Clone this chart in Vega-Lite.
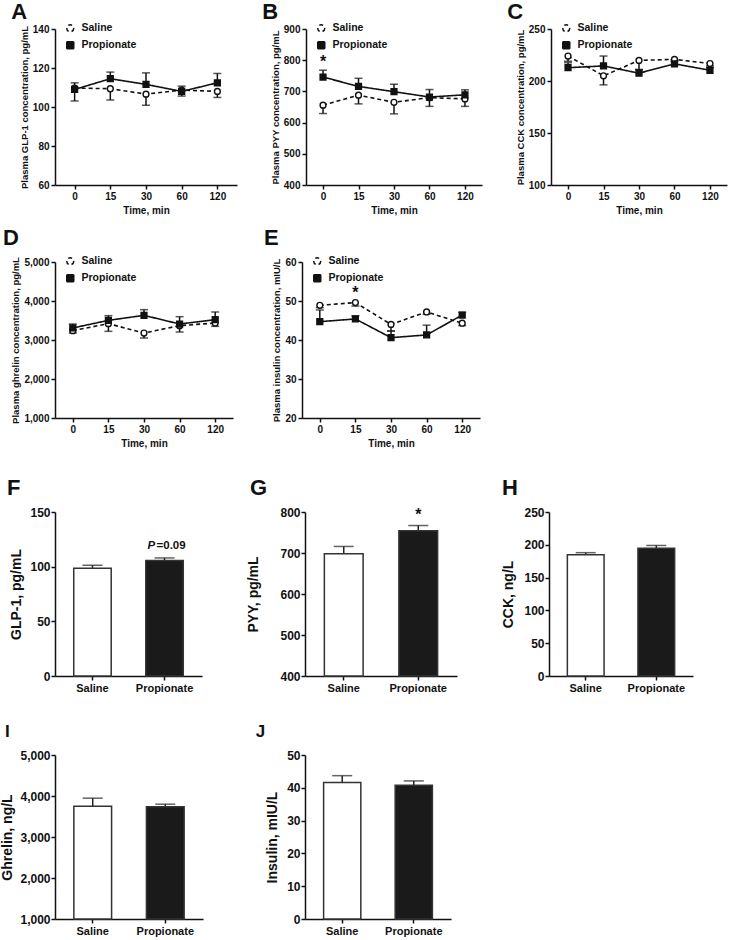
{
  "$schema": "https://vega.github.io/schema/vega-lite/v6.json",
  "background": "white",
  "padding": {"left": 0, "top": 1, "right": 2, "bottom": 2},
  "config": {
    "font": "Liberation Sans",
    "view": {"stroke": null},
    "axis": {"grid": false, "domainColor": "#111", "domainWidth": 1.5, "tickColor": "#111", "tickWidth": 1.5, "tickSize": 4, "labelFont": "Liberation Sans", "labelFontWeight": "bold", "labelColor": "#111", "titleFont": "Liberation Sans", "titleFontWeight": "bold", "titleColor": "#111", "labelPadding": 2},
    "title": {"font": "Liberation Sans", "fontWeight": "bold", "color": "#111", "anchor": "start", "frame": "bounds"},
    "legend": {"labelFont": "Liberation Sans"}
  },
  "datasets": {
    "lines": [
      {"panel": "A", "time": 0, "group": "Saline", "value": 109.7, "err": 103.1},
      {"panel": "A", "time": 15, "group": "Saline", "value": 109.4, "err": 103.6},
      {"panel": "A", "time": 30, "group": "Saline", "value": 106.6, "err": 100.9},
      {"panel": "A", "time": 60, "group": "Saline", "value": 108.7, "err": 105.6},
      {"panel": "A", "time": 120, "group": "Saline", "value": 108.0, "err": 104.9},
      {"panel": "A", "time": 0, "group": "Propionate", "value": 109.0, "err": 112.4},
      {"panel": "A", "time": 15, "group": "Propionate", "value": 114.5, "err": 117.9},
      {"panel": "A", "time": 30, "group": "Propionate", "value": 111.6, "err": 117.5},
      {"panel": "A", "time": 60, "group": "Propionate", "value": 108.0, "err": 110.7},
      {"panel": "A", "time": 120, "group": "Propionate", "value": 112.4, "err": 117.2},
      {"panel": "B", "time": 0, "group": "Saline", "value": 656, "err": 629},
      {"panel": "B", "time": 15, "group": "Saline", "value": 688, "err": 660},
      {"panel": "B", "time": 30, "group": "Saline", "value": 665, "err": 628},
      {"panel": "B", "time": 60, "group": "Saline", "value": 680, "err": 652},
      {"panel": "B", "time": 120, "group": "Saline", "value": 676, "err": 652},
      {"panel": "B", "time": 0, "group": "Propionate", "value": 746, "err": 768},
      {"panel": "B", "time": 15, "group": "Propionate", "value": 716, "err": 742},
      {"panel": "B", "time": 30, "group": "Propionate", "value": 699, "err": 723},
      {"panel": "B", "time": 60, "group": "Propionate", "value": 682, "err": 706},
      {"panel": "B", "time": 120, "group": "Propionate", "value": 689, "err": 705},
      {"panel": "C", "time": 0, "group": "Saline", "value": 224, "err": 219},
      {"panel": "C", "time": 15, "group": "Saline", "value": 205, "err": 196.3},
      {"panel": "C", "time": 30, "group": "Saline", "value": 219.8, "err": 211},
      {"panel": "C", "time": 60, "group": "Saline", "value": 220.8, "err": 219},
      {"panel": "C", "time": 120, "group": "Saline", "value": 216.8, "err": 214.5},
      {"panel": "C", "time": 0, "group": "Propionate", "value": 212.8, "err": 217.6},
      {"panel": "C", "time": 15, "group": "Propionate", "value": 214.5, "err": 224},
      {"panel": "C", "time": 30, "group": "Propionate", "value": 207.5, "err": 211},
      {"panel": "C", "time": 60, "group": "Propionate", "value": 216.5, "err": 220.5},
      {"panel": "C", "time": 120, "group": "Propionate", "value": 210.3, "err": 212.8},
      {"panel": "D", "time": 0, "group": "Saline", "value": 3240, "err": 3180},
      {"panel": "D", "time": 15, "group": "Saline", "value": 3419, "err": 3222},
      {"panel": "D", "time": 30, "group": "Saline", "value": 3179, "err": 3051},
      {"panel": "D", "time": 60, "group": "Saline", "value": 3368, "err": 3205},
      {"panel": "D", "time": 120, "group": "Saline", "value": 3436, "err": 3350},
      {"panel": "D", "time": 0, "group": "Propionate", "value": 3308, "err": 3410},
      {"panel": "D", "time": 15, "group": "Propionate", "value": 3504, "err": 3624},
      {"panel": "D", "time": 30, "group": "Propionate", "value": 3632, "err": 3778},
      {"panel": "D", "time": 60, "group": "Propionate", "value": 3410, "err": 3598},
      {"panel": "D", "time": 120, "group": "Propionate", "value": 3521, "err": 3718},
      {"panel": "E", "time": 0, "group": "Saline", "value": 48.9, "err": 48.3},
      {"panel": "E", "time": 15, "group": "Saline", "value": 49.6, "err": 48.7},
      {"panel": "E", "time": 30, "group": "Saline", "value": 44.0, "err": 42.3},
      {"panel": "E", "time": 60, "group": "Saline", "value": 47.2, "err": 46.6},
      {"panel": "E", "time": 120, "group": "Saline", "value": 44.3, "err": 43.7},
      {"panel": "E", "time": 0, "group": "Propionate", "value": 44.7, "err": 47.7},
      {"panel": "E", "time": 15, "group": "Propionate", "value": 45.4, "err": 46.2},
      {"panel": "E", "time": 30, "group": "Propionate", "value": 40.6, "err": 42.3},
      {"panel": "E", "time": 60, "group": "Propionate", "value": 41.3, "err": 43.8},
      {"panel": "E", "time": 120, "group": "Propionate", "value": 46.4, "err": 47.1}
    ],
    "bars": [
      {"panel": "F", "group": "Saline", "value": 98.5, "err": 101.3},
      {"panel": "F", "group": "Propionate", "value": 105.6, "err": 108},
      {"panel": "G", "group": "Saline", "value": 698, "err": 716},
      {"panel": "G", "group": "Propionate", "value": 754, "err": 767},
      {"panel": "H", "group": "Saline", "value": 185, "err": 188},
      {"panel": "H", "group": "Propionate", "value": 194.7, "err": 199},
      {"panel": "I", "group": "Saline", "value": 3751, "err": 3947},
      {"panel": "I", "group": "Propionate", "value": 3735, "err": 3800},
      {"panel": "J", "group": "Saline", "value": 41.6, "err": 43.7},
      {"panel": "J", "group": "Propionate", "value": 40.8, "err": 42.1}
    ],
    "notes": [
      {"panel": "B", "time": 0, "value": 793, "label": "*"},
      {"panel": "E", "time": 15, "value": 52.0, "label": "*"},
      {"panel": "G", "group": "Propionate", "value": 792, "label": "*"},
      {"panel": "F", "group": "Propionate", "value": 118.7, "label": "P"},
      {"panel": "F", "group": "Propionate", "value": 118.7, "label": "=0.09"}
    ]
  },
  "resolve": {"scale": {"shape": "independent", "fill": "independent", "strokeDash": "independent"}, "legend": {"shape": "independent", "fill": "independent", "strokeDash": "independent"}},
  "spacing": 29,
  "vconcat": [
    {
      "resolve": {"scale": {"shape": "independent", "fill": "independent", "strokeDash": "independent"}, "legend": {"shape": "independent", "fill": "independent", "strokeDash": "independent"}},
      "spacing": 12,
      "vconcat": [
        {
          "resolve": {"scale": {"shape": "independent", "fill": "independent", "strokeDash": "independent"}, "legend": {"shape": "independent", "fill": "independent", "strokeDash": "independent"}},
          "spacing": 25,
          "hconcat": [
            {
              "title": {"text": "A", "fontSize": 22, "dx": -8, "offset": -1},
              "width": 182, "height": 156,
              "data": {"name": "lines"},
              "transform": [{"filter": "datum.panel === 'A'"}],
              "encoding": {
                "x": {"field": "time", "type": "ordinal", "scale": {"type": "point", "padding": 0.55}, "axis": {"title": "Time, min", "labelAngle": 0, "labelFontSize": 10, "titleFontSize": 10, "titlePadding": 4}},
                "y": {"field": "value", "type": "quantitative", "scale": {"domain": [60, 140], "nice": false, "zero": false}, "axis": {"values": [60, 80, 100, 120, 140], "title": "Plasma GLP-1 concentration, pg/mL", "labelFontSize": 10, "titleFontSize": 9.5, "titlePadding": 3}}
              },
              "layer": [
                {"mark": {"type": "line", "color": "#111", "strokeWidth": 1.6}, "encoding": {"strokeDash": {"field": "group", "type": "nominal", "scale": {"domain": ["Saline", "Propionate"], "range": [[4, 3], [1, 0]]},
                  "legend": {"orient": "none", "legendX": 10, "legendY": -6, "title": null, "padding": 0, "rowPadding": 3, "symbolSize": 49, "symbolStrokeWidth": 1.5, "labelOffset": 6, "labelFontSize": 10.5, "labelFontWeight": "bold", "labelColor": "#111"}}}},
                {"mark": {"type": "rule", "color": "#111", "strokeWidth": 1.5}, "encoding": {"y2": {"field": "err"}}},
                {"mark": {"type": "tick", "color": "#111", "orient": "horizontal", "size": 8, "thickness": 1.5}, "encoding": {"y": {"field": "err", "type": "quantitative"}}},
                {"mark": {"type": "point", "filled": true, "stroke": "#111", "strokeWidth": 1.4, "opacity": 1, "size": 34},
                 "encoding": {
                   "fill": {"field": "group", "type": "nominal", "scale": {"domain": ["Saline", "Propionate"], "range": ["white", "#111"]},
                     "legend": {"orient": "none", "legendX": 10, "legendY": -6, "title": null, "padding": 0, "rowPadding": 3, "symbolSize": 49, "symbolStrokeWidth": 1.5, "labelOffset": 6, "labelFontSize": 10.5, "labelFontWeight": "bold", "labelColor": "#111"}},
                   "shape": {"field": "group", "type": "nominal", "scale": {"domain": ["Saline", "Propionate"], "range": ["circle", "square"]},
                     "legend": {"orient": "none", "legendX": 10, "legendY": -6, "title": null, "padding": 0, "rowPadding": 3, "symbolSize": 49, "symbolStrokeWidth": 1.5, "labelOffset": 6, "labelFontSize": 10.5, "labelFontWeight": "bold", "labelColor": "#111"}}
                 }}
              ]
            },
            {
              "title": {"text": "B", "fontSize": 22, "dx": -8, "offset": -1},
              "width": 176, "height": 156,
              "encoding": {
                "x": {"field": "time", "type": "ordinal", "scale": {"type": "point", "padding": 0.48}, "axis": {"title": "Time, min", "labelAngle": 0, "labelFontSize": 10, "titleFontSize": 10, "titlePadding": 4}},
                "y": {"field": "value", "type": "quantitative", "scale": {"domain": [400, 900], "nice": false, "zero": false}, "axis": {"values": [400, 500, 600, 700, 800, 900], "title": "Plasma PYY concentration, pg/mL", "labelFontSize": 10, "titleFontSize": 9.5, "titlePadding": 3}}
              },
              "layer": [
                {
                  "data": {"name": "lines"},
                  "transform": [{"filter": "datum.panel === 'B'"}],
                  "layer": [
                    {"mark": {"type": "line", "color": "#111", "strokeWidth": 1.6}, "encoding": {"strokeDash": {"field": "group", "type": "nominal", "scale": {"domain": ["Saline", "Propionate"], "range": [[4, 3], [1, 0]]},
                      "legend": {"orient": "none", "legendX": 10, "legendY": -6, "title": null, "padding": 0, "rowPadding": 3, "symbolSize": 49, "symbolStrokeWidth": 1.5, "labelOffset": 6, "labelFontSize": 10.5, "labelFontWeight": "bold", "labelColor": "#111"}}}},
                    {"mark": {"type": "rule", "color": "#111", "strokeWidth": 1.5}, "encoding": {"y2": {"field": "err"}}},
                    {"mark": {"type": "tick", "color": "#111", "orient": "horizontal", "size": 8, "thickness": 1.5}, "encoding": {"y": {"field": "err", "type": "quantitative"}}},
                    {"mark": {"type": "point", "filled": true, "stroke": "#111", "strokeWidth": 1.4, "opacity": 1, "size": 34},
                     "encoding": {
                       "fill": {"field": "group", "type": "nominal", "scale": {"domain": ["Saline", "Propionate"], "range": ["white", "#111"]},
                         "legend": {"orient": "none", "legendX": 10, "legendY": -6, "title": null, "padding": 0, "rowPadding": 3, "symbolSize": 49, "symbolStrokeWidth": 1.5, "labelOffset": 6, "labelFontSize": 10.5, "labelFontWeight": "bold", "labelColor": "#111"}},
                       "shape": {"field": "group", "type": "nominal", "scale": {"domain": ["Saline", "Propionate"], "range": ["circle", "square"]},
                         "legend": {"orient": "none", "legendX": 10, "legendY": -6, "title": null, "padding": 0, "rowPadding": 3, "symbolSize": 49, "symbolStrokeWidth": 1.5, "labelOffset": 6, "labelFontSize": 10.5, "labelFontWeight": "bold", "labelColor": "#111"}}
                     }}
                  ]
                },
                {
                  "data": {"name": "notes"},
                  "transform": [{"filter": "datum.panel === 'B'"}],
                  "mark": {"type": "text", "fontSize": 16, "fontWeight": "bold", "color": "#111", "baseline": "middle"},
                  "encoding": {"text": {"field": "label"}}
                }
              ]
            },
            {
              "title": {"text": "C", "fontSize": 22, "dx": -8, "offset": -1},
              "width": 176, "height": 156,
              "data": {"name": "lines"},
              "transform": [{"filter": "datum.panel === 'C'"}],
              "encoding": {
                "x": {"field": "time", "type": "ordinal", "scale": {"type": "point", "padding": 0.48}, "axis": {"title": "Time, min", "labelAngle": 0, "labelFontSize": 10, "titleFontSize": 10, "titlePadding": 4}},
                "y": {"field": "value", "type": "quantitative", "scale": {"domain": [100, 250], "nice": false, "zero": false}, "axis": {"values": [100, 150, 200, 250], "title": "Plasma CCK concentration, pg/mL", "labelFontSize": 10, "titleFontSize": 9.5, "titlePadding": 3}}
              },
              "layer": [
                {"mark": {"type": "line", "color": "#111", "strokeWidth": 1.6}, "encoding": {"strokeDash": {"field": "group", "type": "nominal", "scale": {"domain": ["Saline", "Propionate"], "range": [[4, 3], [1, 0]]},
                  "legend": {"orient": "none", "legendX": 10, "legendY": -6, "title": null, "padding": 0, "rowPadding": 3, "symbolSize": 49, "symbolStrokeWidth": 1.5, "labelOffset": 6, "labelFontSize": 10.5, "labelFontWeight": "bold", "labelColor": "#111"}}}},
                {"mark": {"type": "rule", "color": "#111", "strokeWidth": 1.5}, "encoding": {"y2": {"field": "err"}}},
                {"mark": {"type": "tick", "color": "#111", "orient": "horizontal", "size": 8, "thickness": 1.5}, "encoding": {"y": {"field": "err", "type": "quantitative"}}},
                {"mark": {"type": "point", "filled": true, "stroke": "#111", "strokeWidth": 1.4, "opacity": 1, "size": 34},
                 "encoding": {
                   "fill": {"field": "group", "type": "nominal", "scale": {"domain": ["Saline", "Propionate"], "range": ["white", "#111"]},
                     "legend": {"orient": "none", "legendX": 10, "legendY": -6, "title": null, "padding": 0, "rowPadding": 3, "symbolSize": 49, "symbolStrokeWidth": 1.5, "labelOffset": 6, "labelFontSize": 10.5, "labelFontWeight": "bold", "labelColor": "#111"}},
                   "shape": {"field": "group", "type": "nominal", "scale": {"domain": ["Saline", "Propionate"], "range": ["circle", "square"]},
                     "legend": {"orient": "none", "legendX": 10, "legendY": -6, "title": null, "padding": 0, "rowPadding": 3, "symbolSize": 49, "symbolStrokeWidth": 1.5, "labelOffset": 6, "labelFontSize": 10.5, "labelFontWeight": "bold", "labelColor": "#111"}}
                 }}
              ]
            }
          ]
        },
        {
          "resolve": {"scale": {"shape": "independent", "fill": "independent", "strokeDash": "independent"}, "legend": {"shape": "independent", "fill": "independent", "strokeDash": "independent"}},
          "spacing": 30,
          "hconcat": [
            {
              "title": {"text": "D", "fontSize": 22, "dx": -8, "offset": 6},
              "width": 178, "height": 156,
              "data": {"name": "lines"},
              "transform": [{"filter": "datum.panel === 'D'"}],
              "encoding": {
                "x": {"field": "time", "type": "ordinal", "scale": {"type": "point", "padding": 0.5}, "axis": {"title": "Time, min", "labelAngle": 0, "labelFontSize": 10, "titleFontSize": 10, "titlePadding": 4}},
                "y": {"field": "value", "type": "quantitative", "scale": {"domain": [1000, 5000], "nice": false, "zero": false}, "axis": {"values": [1000, 2000, 3000, 4000, 5000], "format": ",d", "title": "Plasma ghrelin concentration, pg/mL", "labelFontSize": 10, "titleFontSize": 9.5, "titlePadding": 3}}
              },
              "layer": [
                {"mark": {"type": "line", "color": "#111", "strokeWidth": 1.6}, "encoding": {"strokeDash": {"field": "group", "type": "nominal", "scale": {"domain": ["Saline", "Propionate"], "range": [[4, 3], [1, 0]]},
                  "legend": {"orient": "none", "legendX": 10, "legendY": -6, "title": null, "padding": 0, "rowPadding": 3, "symbolSize": 49, "symbolStrokeWidth": 1.5, "labelOffset": 6, "labelFontSize": 10.5, "labelFontWeight": "bold", "labelColor": "#111"}}}},
                {"mark": {"type": "rule", "color": "#111", "strokeWidth": 1.5}, "encoding": {"y2": {"field": "err"}}},
                {"mark": {"type": "tick", "color": "#111", "orient": "horizontal", "size": 8, "thickness": 1.5}, "encoding": {"y": {"field": "err", "type": "quantitative"}}},
                {"mark": {"type": "point", "filled": true, "stroke": "#111", "strokeWidth": 1.4, "opacity": 1, "size": 34},
                 "encoding": {
                   "fill": {"field": "group", "type": "nominal", "scale": {"domain": ["Saline", "Propionate"], "range": ["white", "#111"]},
                     "legend": {"orient": "none", "legendX": 10, "legendY": -6, "title": null, "padding": 0, "rowPadding": 3, "symbolSize": 49, "symbolStrokeWidth": 1.5, "labelOffset": 6, "labelFontSize": 10.5, "labelFontWeight": "bold", "labelColor": "#111"}},
                   "shape": {"field": "group", "type": "nominal", "scale": {"domain": ["Saline", "Propionate"], "range": ["circle", "square"]},
                     "legend": {"orient": "none", "legendX": 10, "legendY": -6, "title": null, "padding": 0, "rowPadding": 3, "symbolSize": 49, "symbolStrokeWidth": 1.5, "labelOffset": 6, "labelFontSize": 10.5, "labelFontWeight": "bold", "labelColor": "#111"}}
                 }}
              ]
            },
            {
              "title": {"text": "E", "fontSize": 22, "dx": -8, "offset": 6},
              "width": 178, "height": 156,
              "encoding": {
                "x": {"field": "time", "type": "ordinal", "scale": {"type": "point", "padding": 0.5}, "axis": {"title": "Time, min", "labelAngle": 0, "labelFontSize": 10, "titleFontSize": 10, "titlePadding": 4}},
                "y": {"field": "value", "type": "quantitative", "scale": {"domain": [20, 60], "nice": false, "zero": false}, "axis": {"values": [20, 30, 40, 50, 60], "title": "Plasma insulin concentration, mIU/L", "labelFontSize": 10, "titleFontSize": 9.5, "titlePadding": 3}}
              },
              "layer": [
                {
                  "data": {"name": "lines"},
                  "transform": [{"filter": "datum.panel === 'E'"}],
                  "layer": [
                    {"mark": {"type": "line", "color": "#111", "strokeWidth": 1.6}, "encoding": {"strokeDash": {"field": "group", "type": "nominal", "scale": {"domain": ["Saline", "Propionate"], "range": [[4, 3], [1, 0]]},
                      "legend": {"orient": "none", "legendX": 10, "legendY": -6, "title": null, "padding": 0, "rowPadding": 3, "symbolSize": 49, "symbolStrokeWidth": 1.5, "labelOffset": 6, "labelFontSize": 10.5, "labelFontWeight": "bold", "labelColor": "#111"}}}},
                    {"mark": {"type": "rule", "color": "#111", "strokeWidth": 1.5}, "encoding": {"y2": {"field": "err"}}},
                    {"mark": {"type": "tick", "color": "#111", "orient": "horizontal", "size": 8, "thickness": 1.5}, "encoding": {"y": {"field": "err", "type": "quantitative"}}},
                    {"mark": {"type": "point", "filled": true, "stroke": "#111", "strokeWidth": 1.4, "opacity": 1, "size": 34},
                     "encoding": {
                       "fill": {"field": "group", "type": "nominal", "scale": {"domain": ["Saline", "Propionate"], "range": ["white", "#111"]},
                         "legend": {"orient": "none", "legendX": 10, "legendY": -6, "title": null, "padding": 0, "rowPadding": 3, "symbolSize": 49, "symbolStrokeWidth": 1.5, "labelOffset": 6, "labelFontSize": 10.5, "labelFontWeight": "bold", "labelColor": "#111"}},
                       "shape": {"field": "group", "type": "nominal", "scale": {"domain": ["Saline", "Propionate"], "range": ["circle", "square"]},
                         "legend": {"orient": "none", "legendX": 10, "legendY": -6, "title": null, "padding": 0, "rowPadding": 3, "symbolSize": 49, "symbolStrokeWidth": 1.5, "labelOffset": 6, "labelFontSize": 10.5, "labelFontWeight": "bold", "labelColor": "#111"}}
                     }}
                  ]
                },
                {
                  "data": {"name": "notes"},
                  "transform": [{"filter": "datum.panel === 'E'"}],
                  "mark": {"type": "text", "fontSize": 16, "fontWeight": "bold", "color": "#111", "baseline": "middle"},
                  "encoding": {"text": {"field": "label"}}
                }
              ]
            }
          ]
        }
      ]
    },
    {
      "resolve": {"scale": {"shape": "independent", "fill": "independent", "strokeDash": "independent"}, "legend": {"shape": "independent", "fill": "independent", "strokeDash": "independent"}},
      "spacing": 30,
      "vconcat": [
        {
          "spacing": 44,
          "hconcat": [
            {
              "title": {"text": "F", "fontSize": 22, "dx": -3, "offset": 6},
              "width": 147, "height": 164,
              "encoding": {
                "x": {"field": "group", "type": "nominal", "sort": ["Saline", "Propionate"], "scale": {"paddingInner": 0.48, "paddingOuter": 0.26}, "axis": {"title": null, "labelAngle": 0, "labelFontSize": 11}},
                "y": {"field": "value", "type": "quantitative", "scale": {"domain": [0, 150], "nice": false}, "axis": {"values": [0, 50, 100, 150], "title": "GLP-1, pg/mL", "labelFontSize": 12, "labelPadding": 1, "titleFontSize": 14, "titlePadding": 6}}
              },
              "layer": [
                {
                  "data": {"name": "bars"},
                  "transform": [{"filter": "datum.panel === 'F'"}],
                  "layer": [
                    {"mark": {"type": "rule", "color": "#222", "strokeWidth": 1.5}, "encoding": {"y2": {"field": "err"}}},
                    {"mark": {"type": "tick", "color": "#222", "orient": "horizontal", "size": 20, "thickness": 1.5}, "encoding": {"y": {"field": "err", "type": "quantitative"}}},
                    {"mark": {"type": "bar", "stroke": "#333", "strokeWidth": 1.5}, "encoding": {"fill": {"field": "group", "type": "nominal", "scale": {"domain": ["Saline", "Propionate"], "range": ["white", "#1a1a1a"]}, "legend": null}}}
                  ]
                },
                {
                  "data": {"name": "notes"},
                  "transform": [{"filter": "datum.panel === 'F' && datum.label === 'P'"}],
                  "mark": {"type": "text", "fontSize": 11.5, "fontWeight": "bold", "fontStyle": "italic", "color": "#111", "baseline": "middle", "align": "left", "dx": -17},
                  "encoding": {"text": {"field": "label"}}
                },
                {
                  "data": {"name": "notes"},
                  "transform": [{"filter": "datum.panel === 'F' && datum.label !== 'P'"}],
                  "mark": {"type": "text", "fontSize": 11.5, "fontWeight": "bold", "color": "#111", "baseline": "middle", "align": "left", "dx": -8},
                  "encoding": {"text": {"field": "label"}}
                }
              ]
            },
            {
              "title": {"text": "G", "fontSize": 22, "dx": 3, "offset": 6},
              "width": 152, "height": 164,
              "encoding": {
                "x": {"field": "group", "type": "nominal", "sort": ["Saline", "Propionate"], "scale": {"paddingInner": 0.48, "paddingOuter": 0.26}, "axis": {"title": null, "labelAngle": 0, "labelFontSize": 11}},
                "y": {"field": "value", "type": "quantitative", "scale": {"domain": [400, 800], "nice": false, "zero": false}, "axis": {"values": [400, 500, 600, 700, 800], "title": "PYY, pg/mL", "labelFontSize": 12, "labelPadding": 1, "titleFontSize": 14, "titlePadding": 19}}
              },
              "layer": [
                {
                  "data": {"name": "bars"},
                  "transform": [{"filter": "datum.panel === 'G'"}],
                  "layer": [
                    {"mark": {"type": "rule", "color": "#222", "strokeWidth": 1.5}, "encoding": {"y2": {"field": "err"}}},
                    {"mark": {"type": "tick", "color": "#222", "orient": "horizontal", "size": 20, "thickness": 1.5}, "encoding": {"y": {"field": "err", "type": "quantitative"}}},
                    {"mark": {"type": "bar", "stroke": "#333", "strokeWidth": 1.5}, "encoding": {"y2": {"datum": 400}, "fill": {"field": "group", "type": "nominal", "scale": {"domain": ["Saline", "Propionate"], "range": ["white", "#1a1a1a"]}, "legend": null}}}
                  ]
                },
                {
                  "data": {"name": "notes"},
                  "transform": [{"filter": "datum.panel === 'G'"}],
                  "mark": {"type": "text", "fontSize": 16, "fontWeight": "bold", "color": "#111", "baseline": "middle"},
                  "encoding": {"text": {"field": "label"}}
                }
              ]
            },
            {
              "title": {"text": "H", "fontSize": 22, "dx": 0, "offset": 6},
              "width": 144, "height": 164,
              "data": {"name": "bars"},
              "transform": [{"filter": "datum.panel === 'H'"}],
              "encoding": {
                "x": {"field": "group", "type": "nominal", "sort": ["Saline", "Propionate"], "scale": {"paddingInner": 0.48, "paddingOuter": 0.26}, "axis": {"title": null, "labelAngle": 0, "labelFontSize": 11}},
                "y": {"field": "value", "type": "quantitative", "scale": {"domain": [0, 250], "nice": false}, "axis": {"values": [0, 50, 100, 150, 200, 250], "title": "CCK, ng/L", "labelFontSize": 12, "labelPadding": 1, "titleFontSize": 14, "titlePadding": 8}}
              },
              "layer": [
                {"mark": {"type": "rule", "color": "#222", "strokeWidth": 1.5}, "encoding": {"y2": {"field": "err"}}},
                {"mark": {"type": "tick", "color": "#222", "orient": "horizontal", "size": 20, "thickness": 1.5}, "encoding": {"y": {"field": "err", "type": "quantitative"}}},
                {"mark": {"type": "bar", "stroke": "#333", "strokeWidth": 1.5}, "encoding": {"fill": {"field": "group", "type": "nominal", "scale": {"domain": ["Saline", "Propionate"], "range": ["white", "#1a1a1a"]}, "legend": null}}}
              ]
            }
          ]
        },
        {
          "spacing": 52,
          "hconcat": [
            {
              "title": {"text": "I", "fontSize": 17, "dx": 4, "offset": 8},
              "width": 148, "height": 164,
              "data": {"name": "bars"},
              "transform": [{"filter": "datum.panel === 'I'"}],
              "encoding": {
                "x": {"field": "group", "type": "nominal", "sort": ["Saline", "Propionate"], "scale": {"paddingInner": 0.48, "paddingOuter": 0.26}, "axis": {"title": null, "labelAngle": 0, "labelFontSize": 11}},
                "y": {"field": "value", "type": "quantitative", "scale": {"domain": [1000, 5000], "nice": false, "zero": false}, "axis": {"values": [1000, 2000, 3000, 4000, 5000], "format": ",d", "title": "Ghrelin, ng/L", "labelFontSize": 12, "labelPadding": 1, "titleFontSize": 14, "titlePadding": 5}}
              },
              "layer": [
                {"mark": {"type": "rule", "color": "#222", "strokeWidth": 1.5}, "encoding": {"y2": {"field": "err"}}},
                {"mark": {"type": "tick", "color": "#222", "orient": "horizontal", "size": 20, "thickness": 1.5}, "encoding": {"y": {"field": "err", "type": "quantitative"}}},
                {"mark": {"type": "bar", "stroke": "#333", "strokeWidth": 1.5}, "encoding": {"y2": {"datum": 1000}, "fill": {"field": "group", "type": "nominal", "scale": {"domain": ["Saline", "Propionate"], "range": ["white", "#1a1a1a"]}, "legend": null}}}
              ]
            },
            {
              "title": {"text": "J", "fontSize": 17, "dx": -10, "offset": 8},
              "width": 146, "height": 164,
              "data": {"name": "bars"},
              "transform": [{"filter": "datum.panel === 'J'"}],
              "encoding": {
                "x": {"field": "group", "type": "nominal", "sort": ["Saline", "Propionate"], "scale": {"paddingInner": 0.48, "paddingOuter": 0.26}, "axis": {"title": null, "labelAngle": 0, "labelFontSize": 11}},
                "y": {"field": "value", "type": "quantitative", "scale": {"domain": [0, 50], "nice": false}, "axis": {"values": [0, 10, 20, 30, 40, 50], "title": "Insulin, mIU/L", "labelFontSize": 12, "labelPadding": 1, "titleFontSize": 14, "titlePadding": 7}}
              },
              "layer": [
                {"mark": {"type": "rule", "color": "#222", "strokeWidth": 1.5}, "encoding": {"y2": {"field": "err"}}},
                {"mark": {"type": "tick", "color": "#222", "orient": "horizontal", "size": 20, "thickness": 1.5}, "encoding": {"y": {"field": "err", "type": "quantitative"}}},
                {"mark": {"type": "bar", "stroke": "#333", "strokeWidth": 1.5}, "encoding": {"fill": {"field": "group", "type": "nominal", "scale": {"domain": ["Saline", "Propionate"], "range": ["white", "#1a1a1a"]}, "legend": null}}}
              ]
            }
          ]
        }
      ]
    }
  ]
}
